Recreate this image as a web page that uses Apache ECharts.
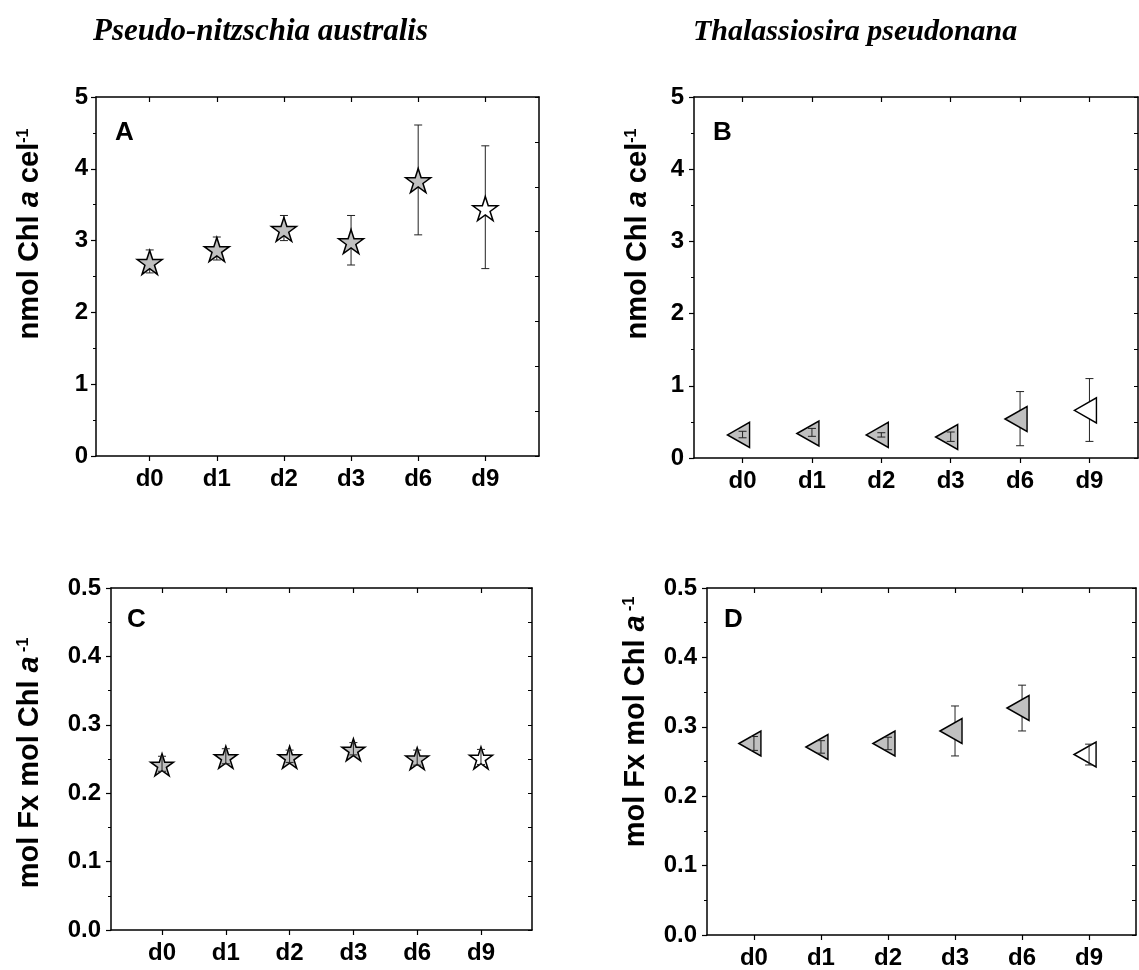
<!DOCTYPE html>
<html>
<head>
<meta charset="utf-8">
<script src="https://cdn.jsdelivr.net/npm/echarts@6/dist/echarts.min.js"></script>
<style>
html,body{margin:0;padding:0;background:#fff;}
#chart{width:1139px;height:970px;}
</style>
</head>
<body>
<div id="chart"></div>
<script>
// ---- data ----
const dayLabels = ['d0', 'd1', 'd2', 'd3', 'd6', 'd9'];
const dayPos = [1, 2, 3, 4, 5, 6];

// Panel A: Pseudo-nitzschia australis, nmol Chl a per cell
const chlPn   = [2.71, 2.89, 3.17, 3.00, 3.85, 3.46];
const chlPnLo = [2.55, 2.73, 3.00, 2.66, 3.08, 2.61];
const chlPnHi = [2.87, 3.05, 3.35, 3.35, 4.61, 4.32];

// Panel B: Thalassiosira pseudonana, nmol Chl a per cell
const chlTp   = [0.32, 0.34, 0.32, 0.29, 0.54, 0.66];
const chlTpLo = [0.28, 0.30, 0.29, 0.23, 0.17, 0.23];
const chlTpHi = [0.37, 0.41, 0.35, 0.36, 0.92, 1.10];

// Panel C: Pseudo-nitzschia australis, mol Fx per mol Chl a
const fxPn   = [0.243, 0.254, 0.254, 0.265, 0.252, 0.253];
const fxPnLo = [0.232, 0.243, 0.245, 0.256, 0.241, 0.242];
const fxPnHi = [0.254, 0.265, 0.263, 0.274, 0.263, 0.264];

// Panel D: Thalassiosira pseudonana, mol Fx per mol Chl a
const fxTp   = [0.276, 0.271, 0.276, 0.294, 0.327, 0.260];
const fxTpLo = [0.266, 0.262, 0.267, 0.258, 0.294, 0.245];
const fxTpHi = [0.286, 0.280, 0.285, 0.330, 0.360, 0.275];

const speciesTitles = ['Pseudo-nitzschia australis', 'Thalassiosira pseudonana'];
const panelLetters = ['A', 'B', 'C', 'D'];

// ---- styling / layout ----
const SANS = '"Liberation Sans", Arial, sans-serif';
const SERIF = '"Liberation Serif", "Times New Roman", serif';
const STAR = 'path://M50,0 L61.23,34.55 L97.55,34.55 L68.16,55.9 L79.39,90.45 L50,69.1 L20.61,90.45 L31.84,55.9 L2.45,34.55 L38.77,34.55 Z';
const TRI = 'path://M0,50 L100,0 L100,100 Z';

const panels = [
  {grid: {left: 96, top: 97, width: 443, height: 359}, xmin: 0.2, xmax: 6.8,
   ymax: 5, yint: 1, dec: 0, vals: chlPn, lo: chlPnLo, hi: chlPnHi, sym: STAR, size: [25, 24], off: [0, 1],
   overThr: -1, rMax: 8, rInt: 1, labMargin: 8},
  {grid: {left: 694, top: 97, width: 444, height: 361}, xmin: 0.3, xmax: 6.7,
   ymax: 5, yint: 1, dec: 0, vals: chlTp, lo: chlTpLo, hi: chlTpHi, sym: TRI, size: [22, 25], off: [-4, 0],
   overThr: 30, rMax: 5, rInt: 0.5, labMargin: 10},
  {grid: {left: 111, top: 588, width: 421, height: 342}, xmin: 0.2, xmax: 6.8,
   ymax: 0.5, yint: 0.1, dec: 1, vals: fxPn, lo: fxPnLo, hi: fxPnHi, sym: STAR, size: [23, 22], off: [0, 1],
   overThr: 1000, rMax: 0.5, rInt: 0.05, labMargin: 10},
  {grid: {left: 707, top: 588, width: 429, height: 348}, xmin: 0.3, xmax: 6.7,
   ymax: 0.5, yint: 0.1, dec: 1, vals: fxTp, lo: fxTpLo, hi: fxTpHi, sym: TRI, size: [22, 25], off: [-4, 0],
   overThr: 30, rMax: 0.5, rInt: 0.05, labMargin: 10}
];

const lineStyle = {color: '#000', width: 1.5};
const grid = [], xAxis = [], yAxis = [], series = [];

panels.forEach((p, i) => {
  grid.push(Object.assign({containLabel: false}, p.grid));
  xAxis[i] = {
    type: 'value', gridIndex: i, min: p.xmin, max: p.xmax, position: 'bottom',
    axisLine: {show: true, onZero: false, lineStyle},
    axisTick: {show: true, inside: false, length: 5, customValues: dayPos, lineStyle: {color: '#000', width: 1.2}},
    axisLabel: {show: true, customValues: dayPos, margin: 11, color: '#000',
      fontFamily: SANS, fontWeight: 'bold', fontSize: 24,
      formatter: v => dayLabels[dayPos.indexOf(Math.round(v))] || ''},
    splitLine: {show: false}
  };
  xAxis[i + 4] = {
    type: 'value', gridIndex: i, min: p.xmin, max: p.xmax, position: 'top',
    axisLine: {show: true, onZero: false, lineStyle},
    axisTick: {show: true, inside: true, length: 5, customValues: dayPos, lineStyle: {color: '#000', width: 1.2}},
    axisLabel: {show: false}, splitLine: {show: false}
  };
  yAxis[i] = {
    type: 'value', gridIndex: i, min: 0, max: p.ymax, interval: p.yint, position: 'left',
    axisLine: {show: true, onZero: false, lineStyle},
    axisTick: {show: true, inside: false, length: 5, lineStyle: {color: '#000', width: 1.2}},
    minorTick: {show: true, splitNumber: 2, length: 3, lineStyle: {color: '#000', width: 1}},
    axisLabel: {show: true, margin: p.labMargin, color: '#000', fontFamily: SANS, fontWeight: 'bold', fontSize: 24,
      formatter: v => v.toFixed(p.dec)},
    splitLine: {show: false}
  };
  yAxis[i + 4] = {
    type: 'value', gridIndex: i, min: 0, max: p.rMax, interval: p.rInt, position: 'right',
    axisLine: {show: true, onZero: false, lineStyle},
    axisTick: {show: true, inside: true, length: 4, lineStyle: {color: '#000', width: 1}},
    axisLabel: {show: false}, splitLine: {show: false}
  };

  const errData = dayPos.map((x, k) => [x, p.lo[k], p.hi[k]]);
  const makeErr = (mode) => ({
    type: 'custom', xAxisIndex: i, yAxisIndex: i, z: mode === 'over' ? 4 : 1,
    data: errData, silent: true,
    renderItem(params, api) {
      const x = api.value(0);
      const a = api.coord([x, api.value(1)]);
      const b = api.coord([x, api.value(2)]);
      const len = Math.abs(a[1] - b[1]);
      const isOver = len <= p.overThr;
      if ((mode === 'over') !== isOver) return;
      const w = 4;
      const st = {stroke: '#222', lineWidth: 1};
      return {type: 'group', children: [
        {type: 'line', shape: {x1: a[0], y1: a[1], x2: b[0], y2: b[1]}, style: st},
        {type: 'line', shape: {x1: a[0] - w, y1: a[1], x2: a[0] + w, y2: a[1]}, style: st},
        {type: 'line', shape: {x1: b[0] - w, y1: b[1], x2: b[0] + w, y2: b[1]}, style: st}
      ]};
    }
  });
  series.push(makeErr('under'));
  series.push({
    type: 'scatter', xAxisIndex: i, yAxisIndex: i, z: 2,
    data: dayPos.map((x, k) => [x, p.vals[k]]),
    symbol: p.sym, symbolSize: p.size, symbolOffset: p.off,
    itemStyle: {
      color: params => params.dataIndex === dayPos.length - 1 ? '#ffffff' : '#c0c0c0',
      borderColor: '#000', borderWidth: 1.5, opacity: 1
    },
    emphasis: {disabled: true}
  });
  series.push(makeErr('over'));
});

const nameRich = {
  n: {fontFamily: SANS, fontWeight: 'bold', fontSize: 29, fill: '#000', color: '#000'},
  i: {fontFamily: SANS, fontWeight: 'bold', fontStyle: 'italic', fontSize: 29, fill: '#000', color: '#000'},
  s: {fontFamily: SANS, fontWeight: 'bold', fontSize: 16, fill: '#000', color: '#000', verticalAlign: 'top'}
};
function yName(x, y, text) {
  return {type: 'text', x, y, rotation: Math.PI / 2, silent: true,
    style: {text, rich: nameRich, align: 'center', verticalAlign: 'middle', fill: '#000'}};
}
function label(x, y, text, font) {
  return {type: 'text', x, y, silent: true,
    style: {text, font, fill: '#000', align: 'left', verticalAlign: 'middle'}};
}

const graphic = [
  label(93, 32, speciesTitles[0], 'italic bold 31px ' + SERIF),
  label(693, 32, speciesTitles[1], 'italic bold 30px ' + SERIF),
  label(115, 133, panelLetters[0], 'bold 26px ' + SANS),
  label(713, 133, panelLetters[1], 'bold 26px ' + SANS),
  label(127, 620, panelLetters[2], 'bold 26px ' + SANS),
  label(724, 620, panelLetters[3], 'bold 26px ' + SANS),
  yName(30, 234, '{n|nmol Chl }{i|a}{n| cel}{s|-1}'),
  yName(638, 234, '{n|nmol Chl }{i|a}{n| cel}{s|-1}'),
  yName(30, 763, '{n|mol Fx mol Chl }{i|a}{s| -1}'),
  yName(636, 722, '{n|mol Fx mol Chl }{i|a}{s| -1}')
];

const chart = echarts.init(document.getElementById('chart'), null, {renderer: 'canvas'});
chart.setOption({
  backgroundColor: '#fff',
  animation: false,
  grid, xAxis, yAxis, series, graphic
});
</script>
</body>
</html>
